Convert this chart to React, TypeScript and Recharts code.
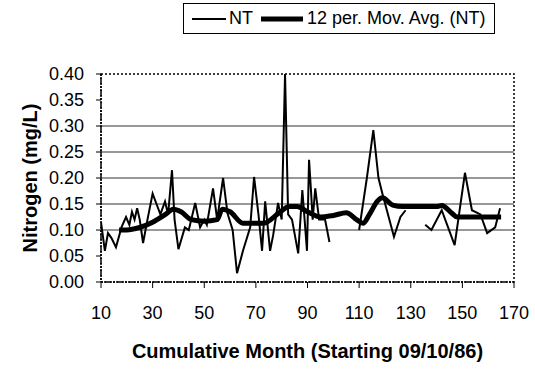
import React from "react";
import {
  LineChart,
  Line,
  XAxis,
  YAxis,
  ReferenceLine,
  ReferenceArea,
} from "recharts";

// monthly samples (month, mg/L)
const ntMonths = [
  10, 11.5, 12.7, 14, 15.8, 18, 19.7, 21, 22, 23, 24, 25, 26.3, 28, 30, 31.5,
  33, 34.8, 36, 37.5, 38.5, 40, 42.5, 44, 46.5, 48.4, 50, 51, 53.4, 55, 57.3,
  59, 61, 62.7, 65, 67.8, 69.3, 71, 72.4, 73.6, 75.5, 76.7, 78.6, 80, 81.3,
  82.5, 84, 86.4, 88, 89.8, 90.6, 91.3, 92, 93, 94.5, 96.8, 98.5, 104, 110,
  113, 115.5, 117.5, 119, 123.5, 126, 128, 132, 135.6, 138, 142, 147, 151,
  153.7, 157, 159.6, 162.7, 164.6,
];
const ntValues = [
  0.115, 0.06, 0.094, 0.085, 0.067, 0.106, 0.125, 0.11, 0.135, 0.12, 0.142,
  0.12, 0.075, 0.12, 0.17, 0.15, 0.13, 0.155, 0.13, 0.215, 0.12, 0.063, 0.105,
  0.1, 0.152, 0.105, 0.12, 0.11, 0.18, 0.12, 0.2, 0.132, 0.1, 0.017, 0.06,
  0.105, 0.202, 0.13, 0.06, 0.155, 0.06, 0.09, 0.152, 0.12, 0.4, 0.13, 0.12,
  0.055, 0.177, 0.06, 0.235, 0.18, 0.12, 0.18, 0.12, 0.12, 0.077, null, 0.1,
  0.2, 0.292, 0.2, 0.17, 0.087, 0.125, 0.138, null, 0.11, 0.1, 0.138, 0.071,
  0.21, 0.138, 0.13, 0.094, 0.105, 0.142,
];

const maMonths = [
  17, 20, 25, 30, 35, 38, 41, 45, 50, 55, 57, 60, 65, 73, 79, 83, 86, 90, 95,
  100, 105, 109, 111.5, 114, 117, 119, 123, 127, 140, 142, 146, 148, 155, 165,
];
const maValues = [
  0.1, 0.1, 0.105, 0.115, 0.13, 0.14, 0.135, 0.12, 0.117, 0.12, 0.14, 0.135,
  0.113, 0.113, 0.133, 0.145, 0.145, 0.135, 0.125, 0.128, 0.133, 0.12, 0.113,
  0.13, 0.155, 0.162, 0.148, 0.145, 0.145, 0.147, 0.132, 0.125, 0.125, 0.125,
];

const xTicks = [10, 30, 50, 70, 90, 110, 130, 150, 170];
const yTicks = [0, 0.05, 0.1, 0.15, 0.2, 0.25, 0.3, 0.35, 0.4];
const gridValues = [0.1, 0.15, 0.2, 0.25, 0.3];

const ntData = ntMonths.map((m, i) => ({ m, nt: ntValues[i] }));
const maData = maMonths.map((m, i) => ({ m, ma: maValues[i] }));

const FONT = "'Liberation Sans', Arial, sans-serif";

const LegendBox = () => (
  <div
    style={{
      position: "absolute",
      left: 183,
      top: 3,
      width: 312,
      height: 31,
      border: "1.5px solid #000",
      display: "flex",
      alignItems: "center",
      fontFamily: FONT,
      fontSize: 18,
      color: "#000",
      background: "#fff",
      boxSizing: "border-box",
    }}
  >
    <svg width={40} height={10} style={{ marginLeft: 4 }}>
      <line x1={4} y1={5} x2={38} y2={5} stroke="#000" strokeWidth={2} />
    </svg>
    <span style={{ marginLeft: 1 }}>NT</span>
    <svg width={46} height={10} style={{ marginLeft: 6 }}>
      <line x1={2} y1={5} x2={44} y2={5} stroke="#000" strokeWidth={5} />
    </svg>
    <span style={{ marginLeft: 2 }}>12 per. Mov. Avg. (NT)</span>
  </div>
);

const YTitle = ({ viewBox }: any) => {
  const x = 30;
  const y = viewBox.y + viewBox.height / 2;
  return (
    <text
      x={x}
      y={y}
      transform={`rotate(-90, ${x}, ${y})`}
      textAnchor="middle"
      dominantBaseline="central"
      fontFamily={FONT}
      fontSize={20}
      fontWeight="bold"
      fill="#000"
    >
      Nitrogen (mg/L)
    </text>
  );
};

export default function App() {
  return (
    <div
      style={{
        position: "absolute",
        left: 0,
        top: 0,
        width: 535,
        height: 369,
        background: "#fff",
      }}
    >
      <LineChart
        width={535}
        height={369}
        margin={{ top: 74, right: 21, bottom: 7, left: 0 }}
      >
        <XAxis
          type="number"
          dataKey="m"
          domain={[10, 170]}
          ticks={xTicks}
          interval={0}
          allowDataOverflow
          tickSize={6}
          tickMargin={18}
          height={80}
          axisLine={{ stroke: "#000", strokeWidth: 1.5, strokeDasharray: "2 1" }}
          tickLine={{ stroke: "#000" }}
          tick={{ fontFamily: FONT, fontSize: 18, fill: "#000" }}
          label={{
            value: "Cumulative Month (Starting 09/10/86)",
            position: "insideBottom",
            offset: 4,
            fontFamily: FONT,
            fontSize: 20,
            fontWeight: "bold",
            fill: "#000",
          }}
        />
        <YAxis
          type="number"
          domain={[0, 0.4]}
          ticks={yTicks}
          interval={0}
          width={101}
          tickSize={5}
          tickMargin={12}
          tickFormatter={(v: number) => v.toFixed(2)}
          axisLine={{ stroke: "#000", strokeWidth: 1.5, strokeDasharray: "2 1" }}
          tickLine={{ stroke: "#000" }}
          tick={{ fontFamily: FONT, fontSize: 18, fill: "#000" }}
          label={<YTitle />}
        />
        <ReferenceArea
          x1={10}
          x2={170}
          y1={0}
          y2={0.4}
          fill="none"
          stroke="#000"
          strokeWidth={1.5}
          strokeDasharray="2 2"
          ifOverflow="visible"
        />
        {gridValues.map((g) => (
          <ReferenceLine key={g} y={g} stroke="#333" strokeWidth={1.2} />
        ))}
        <Line
          data={ntData}
          dataKey="nt"
          type="linear"
          stroke="#000"
          strokeWidth={2}
          dot={false}
          connectNulls={false}
          isAnimationActive={false}
        />
        <Line
          data={maData}
          dataKey="ma"
          type="monotone"
          stroke="#000"
          strokeWidth={5}
          dot={false}
          isAnimationActive={false}
        />
      </LineChart>
      <LegendBox />
    </div>
  );
}
